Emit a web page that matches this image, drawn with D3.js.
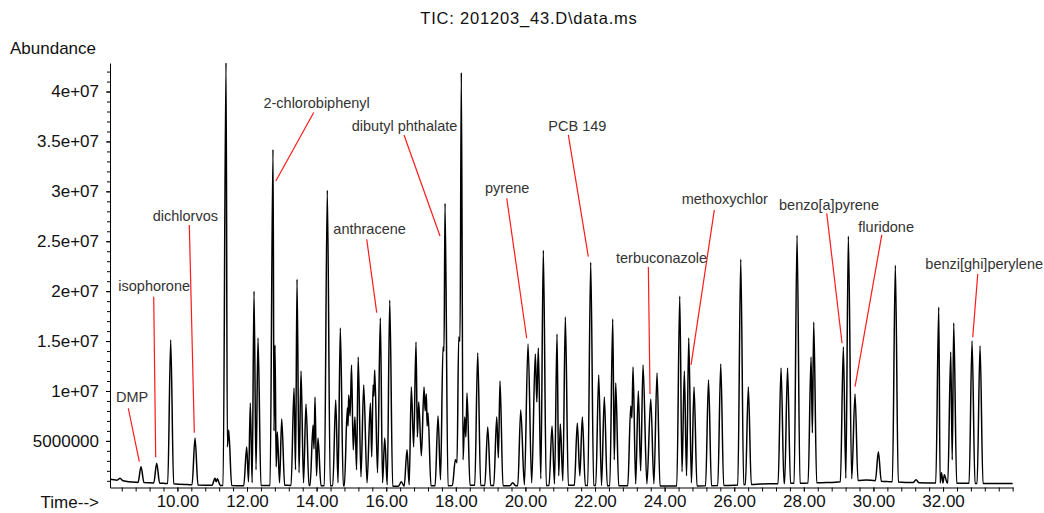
<!DOCTYPE html>
<html>
<head>
<meta charset="UTF-8">
<script src="https://d3js.org/d3.v7.min.js"></script>
<style>
  body { margin: 0; background: #fff; }
  svg { display: block; font-family: "Liberation Sans", Arial, sans-serif; }
  .axis text { font-size: 17px; fill: #111; }
  .axis path, .axis line { stroke: #000; stroke-width: 1; }
  .anno { font-size: 14.5px; fill: #333; }
</style>
</head>
<body>
<svg width="1044" height="513"></svg>
<script>
// retention time (min), apex abundance, valley before the peak (null = back to baseline)
const peakTimes = [
  8.351, 8.954, 9.405, 9.807, 10.506, 11.080, 11.147, 11.397, 11.474, 11.991,
  12.095, 12.201, 12.316, 12.747, 12.805, 12.871, 12.997, 13.351, 13.437, 13.552,
  13.695, 13.897, 13.954, 14.040, 14.307, 14.549, 14.681, 14.882, 14.922, 15.003,
  15.101, 15.195, 15.353, 15.545, 15.622, 15.670, 15.831, 15.957, 16.101, 16.434,
  16.598, 16.721, 16.856, 16.934, 17.086, 17.152, 17.201, 17.489, 17.632, 17.690,
  17.986, 18.083, 18.158, 18.256, 18.322, 18.629, 18.917, 19.175, 19.270, 19.635,
  19.865, 20.075, 20.284, 20.371, 20.514, 20.764, 20.908, 21.003, 21.147, 21.491,
  21.635, 21.876, 22.106, 22.267, 22.509, 22.595, 23.026, 23.092, 23.244, 23.379,
  23.601, 23.782, 24.434, 24.566, 24.693, 24.845, 25.261, 25.612, 26.187, 26.405,
  27.345, 27.532, 27.805, 28.207, 28.284, 29.135, 29.279, 29.471, 30.141, 30.629,
  31.224, 31.876, 31.957, 32.037, 32.221, 32.307, 32.833, 33.063
];
const peakHeights = [
  1.25e6, 2.41e6, 2.76e6, 15.1e6, 5.3e6, 1.25e6, 1.2e6, 42.9e6, 6.1e6, 4.4e6,
  8.8e6, 20.0e6, 15.3e6, 34.2e6, 14.6e6, 5.9e6, 7.2e6, 10.3e6, 21.2e6, 12.0e6,
  8.7e6, 6.6e6, 9.4e6, 5.3e6, 30.1e6, 9.1e6, 16.3e6, 8.3e6, 9.6e6, 12.6e6,
  7.4e6, 13.4e6, 10.6e6, 8.8e6, 10.6e6, 12.1e6, 17.3e6, 5.3e6, 19.1e6, 0.9e6,
  4.1e6, 10.4e6, 14.9e6, 8.9e6, 10.4e6, 9.7e6, 7.8e6, 7.5e6, 14.4e6, 28.8e6,
  3.1e6, 15.4e6, 41.9e6, 7.4e6, 9.8e6, 13.8e6, 6.4e6, 7.4e6, 11.0e6, 0.8e6,
  8.1e6, 14.7e6, 13.7e6, 14.3e6, 24.1e6, 6.5e6, 15.7e6, 6.7e6, 17.4e6, 6.8e6,
  7.4e6, 22.9e6, 11.6e6, 9.4e6, 17.2e6, 10.8e6, 8.5e6, 12.4e6, 10.0e6, 12.6e6,
  9.2e6, 11.8e6, 19.5e6, 12.0e6, 15.3e6, 10.4e6, 11.1e6, 12.7e6, 23.2e6, 10.4e6,
  12.3e6, 12.3e6, 25.6e6, 13.4e6, 16.9e6, 14.4e6, 25.5e6, 9.7e6, 3.9e6, 22.6e6,
  1.1e6, 18.4e6, 1.8e6, 1.6e6, 13.9e6, 16.8e6, 15.0e6, 14.5e6
];
const peakValleys = [
  null, null, null, null, null, null, 0.9e6, null, 4.4e6, null,
  0.9e6, 0.8e6, 2.1e6, null, 6.0e6, 2.4e6, 0.8e6, null, 2.1e6, 1.8e6,
  0.8e6, null, 4.2e6, 1.5e6, null, null, 0.8e6, null, 6.5e6, 7.5e6,
  4.1e6, 2.1e6, 1.4e6, 0.8e6, 3.4e6, 9.5e6, 1.8e6, 0.8e6, 0.6e6, null,
  null, 0.6e6, 4.4e6, 5.4e6, 3.5e6, 8.0e6, 6.5e6, null, 1.1e6, 14.0e6,
  null, 2.8e6, 15.0e6, 3.1e6, 5.4e6, null, null, null, 3.3e6, null,
  null, 0.6e6, 0.8e6, 8.9e6, 1.2e6, null, 0.7e6, 1.5e6, 1.0e6, null,
  1.5e6, null, null, null, null, 3.1e6, null, 7.3e6, 0.7e6, 2.0e6,
  0.7e6, 0.7e6, null, 1.9e6, 1.5e6, 0.8e6, null, null, null, null,
  null, null, null, null, 5.8e6, null, 1.25e6, 1.2e6, null, null,
  null, null, null, null, null, 3.1e6, null, null
];

// baseline drift [time, abundance]
const baseline = [
  [8.06, 1.15e6], [8.8, 0.85e6], [9.6, 0.75e6], [10.3, 0.62e6], [11.0, 0.55e6],
  [12.0, 0.5e6], [13.0, 0.55e6], [16.3, 0.45e6], [18.5, 0.55e6], [19.6, 0.5e6],
  [21.3, 0.55e6], [22.9, 0.5e6], [24.9, 0.48e6], [25.7, 0.53e6], [26.75, 0.68e6],
  [28.66, 0.82e6], [29.8, 1.08e6], [30.4, 0.92e6], [31.16, 0.82e6], [32.6, 0.75e6],
  [34.0, 0.72e6]
];

const yTickValues = [5e6, 10e6, 15e6, 20e6, 25e6, 30e6, 35e6, 40e6];
const xTickValues = [10, 12, 14, 16, 18, 20, 22, 24, 26, 28, 30, 32];

// compound labels: label position (time, abundance), leader line from/to (time, abundance)
const annotations = [
  { name: "DMP",                 lt: 8.236,  lv: 8.90e6,  ft: 8.589,  fv: 8.27e6,  tt: 8.905,  tv: 2.92e6 },
  { name: "isophorone",          lt: 8.302,  lv: 20.02e6, ft: 9.319,  fv: 19.45e6, tt: 9.376,  tv: 3.36e6 },
  { name: "dichlorvos",          lt: 9.290,  lv: 27.06e6, ft: 10.342, fv: 26.63e6, tt: 10.486, tv: 5.82e6 },
  { name: "2-chlorobiphenyl",    lt: 12.472, lv: 38.36e6, ft: 13.917, fv: 37.90e6, tt: 12.828, tv: 31.04e6 },
  { name: "anthracene",          lt: 14.480, lv: 25.73e6, ft: 15.440, fv: 25.20e6, tt: 15.727, tv: 17.85e6 },
  { name: "dibutyl phthalate",   lt: 15.009, lv: 36.05e6, ft: 16.511, fv: 35.65e6, tt: 17.546, tv: 25.53e6 },
  { name: "pyrene",              lt: 18.839, lv: 29.84e6, ft: 19.463, fv: 29.31e6, tt: 20.037, tv: 15.28e6 },
  { name: "PCB 149",             lt: 20.658, lv: 36.05e6, ft: 21.233, fv: 35.65e6, tt: 21.807, tv: 23.46e6 },
  { name: "terbuconazole",       lt: 22.603, lv: 22.83e6, ft: 23.532, fv: 22.43e6, tt: 23.580, tv: 9.70e6 },
  { name: "methoxychlor",        lt: 24.491, lv: 28.74e6, ft: 25.428, fv: 28.14e6, tt: 24.759, tv: 12.61e6 },
  { name: "benzo[a]pyrene",      lt: 27.287, lv: 28.14e6, ft: 28.658, fv: 27.81e6, tt: 29.098, tv: 14.78e6 },
  { name: "fluridone",           lt: 29.566, lv: 25.96e6, ft: 30.239, fv: 25.63e6, tt: 29.471, tv: 10.43e6 },
  { name: "benzi[ghi]perylene",  lt: 31.491, lv: 22.22e6, ft: 32.997, fv: 21.72e6, tt: 32.853, tv: 15.38e6 }
];

const svg = d3.select("svg");
const margin = { top: 63, right: 31, bottom: 25.5, left: 110 };
const W = +svg.attr("width"), H = +svg.attr("height");

const x = d3.scaleLinear().domain([8.063, 34.01]).range([margin.left, W - margin.right]);
const y = d3.scaleLinear().domain([0.33e6, 42.86e6]).range([H - margin.bottom, margin.top]);
const base = d3.scaleLinear().domain(baseline.map(d => d[0])).range(baseline.map(d => d[1]));

// build trace
const hw = 0.085;
let pts = [];
peakTimes.forEach((t, i) => {
  if (i > 0 && peakValleys[i] != null) {
    pts.push([(peakTimes[i - 1] + t) / 2, peakValleys[i]]);
  } else if (i > 0) {
    const r = peakTimes[i - 1] + hw, l = t - hw;
    if (r < l) { pts.push([r, base(r)]); pts.push([l, base(l)]); }
    else { const m = (peakTimes[i - 1] + t) / 2; pts.push([m, base(m)]); }
  } else {
    pts.push([t - hw, base(t - hw)]);
  }
  pts.push([t, peakHeights[i]]);
});
const lastT = peakTimes[peakTimes.length - 1];
pts.push([lastT + hw, base(lastT + hw)]);
// baseline drift points in open gaps
baseline.forEach(b => {
  const inside = peakTimes.some((t, i) => {
    if (Math.abs(b[0] - t) <= hw) return true;
    return i > 0 && peakValleys[i] != null && b[0] > peakTimes[i - 1] && b[0] < t;
  });
  if (!inside) pts.push(b);
});
pts.sort((a, b) => a[0] - b[0]);

svg.append("defs").append("clipPath").attr("id", "plot")
  .append("rect").attr("x", margin.left).attr("y", margin.top)
  .attr("width", W - margin.left - margin.right).attr("height", H - margin.top - margin.bottom);

svg.append("path")
  .datum(pts)
  .attr("clip-path", "url(#plot)")
  .attr("fill", "none")
  .attr("stroke", "#000")
  .attr("stroke-width", 1.5)
  .attr("stroke-linejoin", "round")
  .attr("d", d3.line().curve(d3.curveMonotoneX).x(d => x(d[0])).y(d => y(d[1])));

// y axis
const fmtY = v => v < 1e7 ? String(v) : v.toExponential().replace(/e\+(\d)$/, "e+0$1");
svg.append("g").attr("class", "axis")
  .attr("transform", `translate(${margin.left},0)`)
  .call(d3.axisLeft(y).tickValues(d3.range(1e6, 42.5e6, 1e6)).tickSize(3).tickFormat(""))
  .call(g => g.select(".domain").remove());
svg.append("g").attr("class", "axis")
  .attr("transform", `translate(${margin.left},0)`)
  .call(d3.axisLeft(y).tickValues(yTickValues).tickSize(4).tickSizeOuter(0).tickPadding(7).tickFormat(fmtY));

// x axis
svg.append("g").attr("class", "axis")
  .attr("transform", `translate(0,${H - margin.bottom})`)
  .call(d3.axisBottom(x).tickValues(d3.range(8.4, 34.05, 0.4)).tickSize(4).tickFormat(""))
  .call(g => g.select(".domain").remove());
svg.append("g").attr("class", "axis")
  .attr("transform", `translate(0,${H - margin.bottom})`)
  .call(d3.axisBottom(x).tickValues(xTickValues).tickSize(4).tickSizeOuter(0).tickPadding(3).tickFormat(d => d.toFixed(2)))
  .call(g => g.selectAll("text").attr("font-size", 18));

// titles
svg.append("text").attr("x", 529).attr("y", 24).attr("text-anchor", "middle")
  .attr("font-size", 16.5).attr("letter-spacing", 0.8).attr("fill", "#111").text("TIC: 201203_43.D\\data.ms");
svg.append("text").attr("x", 10).attr("y", 54).attr("font-size", 17).attr("fill", "#111").text("Abundance");
svg.append("text").attr("x", 99).attr("y", 508).attr("text-anchor", "end")
  .attr("font-size", 17).attr("fill", "#111").text("Time-->");

// annotations
const ag = svg.append("g");
ag.selectAll("line").data(annotations).join("line")
  .attr("x1", d => x(d.ft)).attr("y1", d => y(d.fv))
  .attr("x2", d => x(d.tt)).attr("y2", d => y(d.tv))
  .attr("stroke", "#ff1a1a").attr("stroke-width", 1.2);
ag.selectAll("text").data(annotations).join("text")
  .attr("class", "anno")
  .attr("x", d => x(d.lt)).attr("y", d => y(d.lv))
  .text(d => d.name);
</script>
</body>
</html>
